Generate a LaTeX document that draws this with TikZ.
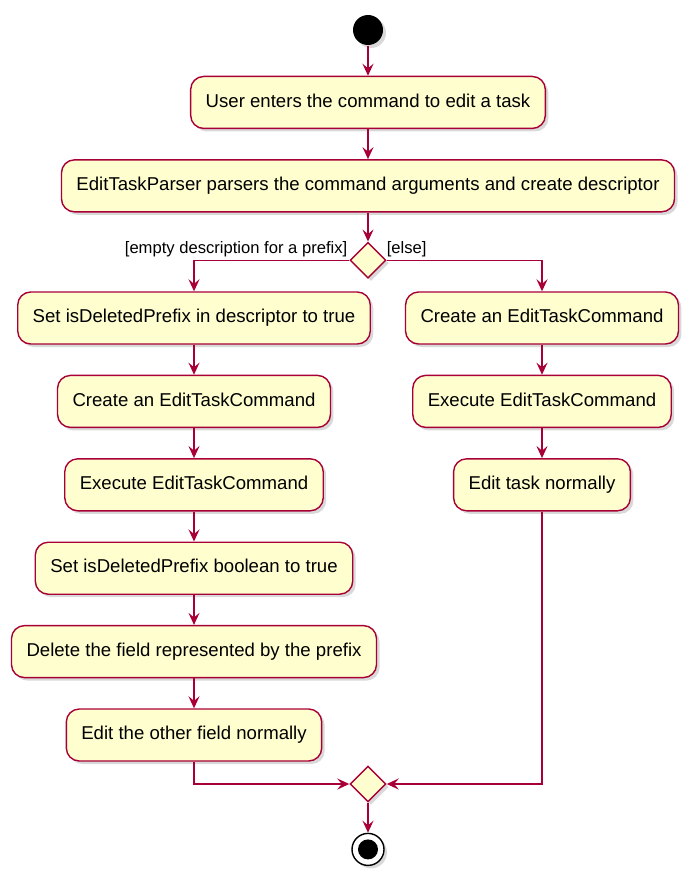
\documentclass[tikz,border=0pt]{standalone}
\usepackage{fontspec}
\setmainfont{Liberation Sans}
\usepackage{tikz}
\usetikzlibrary{arrows.meta, positioning, shapes.geometric, shadows}

\definecolor{umlred}{HTML}{A80036}
\definecolor{umlfill}{HTML}{FEFECE}

\begin{document}
\begin{tikzpicture}[
            x = 1pt, y = -1pt, % pixel grid of the drawing
            > = {Stealth[length=12pt, width=11pt, inset=4.5pt]}, % arrow head style
            node distance = 30pt, % gap between activities
            line width = 1.5pt % line style
        ]

        \tikzstyle{activity}=[
            rectangle, rounded corners = 13pt,
            draw = umlred, fill = umlfill,
            line width = 1.4pt,
            minimum height = 52pt, inner xsep = 15pt,
            text height = 13.5pt, text depth = 4pt,
            font = \fontsize{18.6}{22}\selectfont,
            drop shadow = {shadow xshift=3pt, shadow yshift=-3pt, opacity=0.3}
        ]
        \tikzstyle{branch}=[
            diamond, draw = umlred, fill = umlfill,
            line width = 1.4pt, inner sep = 0pt,
            minimum width = 36pt, minimum height = 36pt,
            drop shadow = {shadow xshift=3pt, shadow yshift=-3pt, opacity=0.3}
        ]
        \tikzstyle{guard}=[
            inner sep = 0pt, font = \fontsize{16.6}{20}\selectfont
        ]
        \tikzstyle{startnode}=[
            circle, fill = black, minimum size = 30pt, inner sep = 0pt,
            drop shadow = {shadow xshift=3pt, shadow yshift=-3pt, opacity=0.3}
        ]
        \tikzstyle{stopnode}=[
            circle, draw = black, fill = white, line width = 1.4pt,
            minimum size = 32pt, inner sep = 0pt,
            path picture = {\fill[black] (path picture bounding box.center) circle (10pt);},
            drop shadow = {shadow xshift=3pt, shadow yshift=-3pt, opacity=0.3}
        ]

        \useasboundingbox (0,0) rectangle (694,880);

        \node[startnode] (start) at (368,30) {};
        \node[activity] (enter) [below=of start] {User enters the command to edit a task};
        \node[activity] (parse) [below=of enter] {EditTaskParser parsers the command arguments and create descriptor};
        \node[branch] (split) [below=29pt of parse] {};

        \node[guard, anchor=base east] (gempty) at (348,253) {[empty description for a prefix]};
        \node[guard, anchor=base west] (gelse) at (386,253) {[else]};

        % prefix branch
        \node[activity] (setpre) at (194,318) {Set isDeletedPrefix in descriptor to true};
        \node[activity] (lcreate) [below=of setpre] {Create an EditTaskCommand};
        \node[activity] (lexec) [below=of lcreate] {Execute EditTaskCommand};
        \node[activity] (setbool) [below=of lexec] {Set isDeletedPrefix boolean to true};
        \node[activity] (delfield) [below=of setbool] {Delete the field represented by the prefix};
        \node[activity] (editother) [below=of delfield] {Edit the other field normally};

        % else branch
        \node[activity] (rcreate) at (542,318) {Create an EditTaskCommand};
        \node[activity] (rexec) [below=of rcreate] {Execute EditTaskCommand};
        \node[activity] (editnorm) [below=of rexec] {Edit task normally};

        \node[branch] (merge) at (368,784) {};
        \node[stopnode] (stop) [below=of merge] {};

        \begin{scope}[draw = umlred]
        \path[->] (start) edge (enter);
        \path[->] (enter) edge (parse);
        \path[->] (parse) edge (split);
        \draw[->] (split.west) -| (setpre.north);
        \draw[->] (split.east) -| (rcreate.north);
        \path[->] (setpre) edge (lcreate);
        \path[->] (lcreate) edge (lexec);
        \path[->] (lexec) edge (setbool);
        \path[->] (setbool) edge (delfield);
        \path[->] (delfield) edge (editother);
        \path[->] (rcreate) edge (rexec);
        \path[->] (rexec) edge (editnorm);
        \draw[->] (editother.south) |- (merge.west);
        \draw[->] (editnorm.south) |- (merge.east);
        \path[->] (merge) edge (stop);
        \end{scope}

  \end{tikzpicture}
\end{document}
